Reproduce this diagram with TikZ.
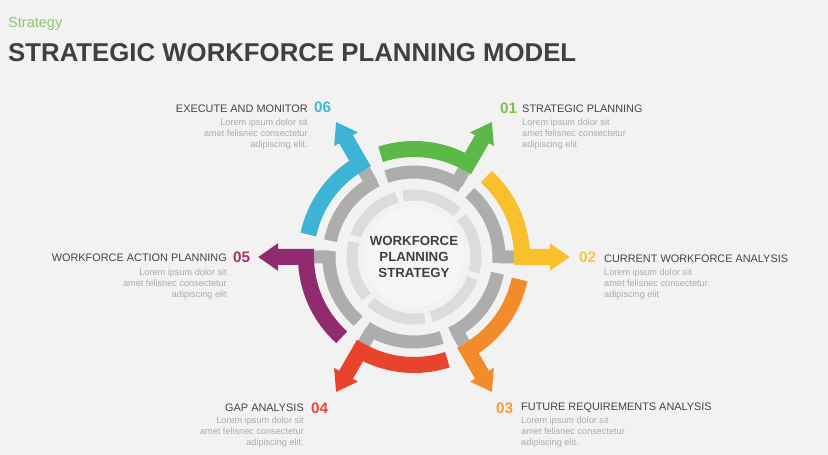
\documentclass[tikz,border=0pt]{standalone}
\usepackage{fontspec}
\setmainfont{Liberation Sans}
\usetikzlibrary{arrows.meta}
\definecolor{bg}{HTML}{F2F2F2}
\definecolor{hubfill}{HTML}{F6F6F6}
\definecolor{ringgray}{HTML}{ADADAD}
\definecolor{ringpale}{HTML}{DCDCDC}
\definecolor{titlegray}{HTML}{404040}
\definecolor{headgray}{HTML}{454545}
\definecolor{loremgray}{HTML}{ABABAB}
\definecolor{taggreen}{HTML}{8CC96B}
\definecolor{armgreen}{HTML}{5DB947}
\definecolor{armyellow}{HTML}{F9C02D}
\definecolor{armorange}{HTML}{F28C2A}
\definecolor{armred}{HTML}{E8432D}
\definecolor{armpurple}{HTML}{8F2B6E}
\definecolor{armcyan}{HTML}{3DB4D6}
\definecolor{numgreen}{HTML}{7DC24B}
\definecolor{numyellow}{HTML}{F8C447}
\definecolor{numorange}{HTML}{F29B3B}
\definecolor{numred}{HTML}{E9473A}
\definecolor{numpurple}{HTML}{A3316F}
\definecolor{numcyan}{HTML}{43B7D8}
\begin{document}
\begin{tikzpicture}[x=0.03cm,y=0.03cm,
        arm/.style={line width=0.48cm,line join=miter,-{Triangle[width=0.78cm,length=0.6cm]}},
        grayarc/.style={line width=0.39cm,draw=ringgray},
        palearc/.style={line width=0.33cm,draw=ringpale},
        num/.style={anchor=west,inner sep=0pt,font=\fontsize{13}{15}\selectfont\bfseries},
        head/.style={inner sep=0pt,text=headgray,font=\fontsize{9.3}{11}\selectfont},
        lorem/.style={inner sep=0pt,text=loremgray,font=\fontsize{7.8}{9.4}\selectfont}]
            \fill[bg](0,0)rectangle(828,-455);
            \useasboundingbox(0,0)rectangle(828,-455);
            \node[anchor=base west,inner sep=0pt,text=taggreen,font=\fontsize{12.4}{14}\selectfont](Tag)at(8,-28){Strategy};
            \node[anchor=west,inner sep=0pt,text=titlegray,font=\fontsize{22}{26}\selectfont\bfseries](Title)at(8,-52.5){STRATEGIC WORKFORCE PLANNING MODEL};
            \begin{scope}[shift={(414,-257)}]
            \fill[hubfill](0,0)circle(50);
            \coordinate(T1)at(60:156);
            \coordinate(T2)at(0:156);
            \coordinate(T3)at(-60:156);
            \coordinate(T4)at(-120:156);
            \coordinate(T5)at(180:156);
            \coordinate(T6)at(120:156);
            \draw[palearc](100:62)arc[start angle=100,end angle=46,radius=62];
            \draw[palearc](40:62)arc[start angle=40,end angle=-14,radius=62];
            \draw[palearc](-20:62)arc[start angle=-20,end angle=-74,radius=62];
            \draw[palearc](-80:62)arc[start angle=-80,end angle=-134,radius=62];
            \draw[palearc](220:62)arc[start angle=220,end angle=166,radius=62];
            \draw[palearc](160:62)arc[start angle=160,end angle=106,radius=62];
            \draw[grayarc](109:85)arc[start angle=109,end angle=56,radius=85](60:85)--(60:100);
            \draw[grayarc](49:85)arc[start angle=49,end angle=-4,radius=85](0:85)--(0:100);
            \draw[grayarc](-11:85)arc[start angle=-11,end angle=-64,radius=85](-60:85)--(-60:100);
            \draw[grayarc](-71:85)arc[start angle=-71,end angle=-124,radius=85](-120:85)--(-120:100);
            \draw[grayarc](229:85)arc[start angle=229,end angle=176,radius=85](180:85)--(180:100);
            \draw[grayarc](169:85)arc[start angle=169,end angle=116,radius=85](120:85)--(120:100);
            \draw[arm,armgreen](108:108)arc[start angle=108,end angle=60,radius=108]--(T1);
            \draw[arm,armyellow](48:108)arc[start angle=48,end angle=0,radius=108]--(T2);
            \draw[arm,armorange](-12:108)arc[start angle=-12,end angle=-60,radius=108]--(T3);
            \draw[arm,armred](-72:108)arc[start angle=-72,end angle=-120,radius=108]--(T4);
            \draw[arm,armpurple](228:108)arc[start angle=228,end angle=180,radius=108]--(T5);
            \draw[arm,armcyan](168:108)arc[start angle=168,end angle=120,radius=108]--(T6);
            \node[align=center,text=titlegray,font=\fontsize{11.3}{13.7}\selectfont\bfseries](Hub)at(0,0){WORKFORCE\\PLANNING\\STRATEGY};
            \end{scope}
            \node[num,text=numgreen](N1)at(500,-108){01};
            \node[head,anchor=west](H1)at(522,-109){STRATEGIC PLANNING};
            \node[lorem,anchor=west,align=left](L1)at(522,-134){Lorem ipsum dolor sit\\amet felisnec consectetur\\adipiscing elit};
            \node[num,text=numyellow](N2)at(579,-257){02};
            \node[head,anchor=west](H2)at(604,-259){CURRENT WORKFORCE ANALYSIS};
            \node[lorem,anchor=west,align=left](L2)at(604,-284){Lorem ipsum dolor sit\\amet felisnec consectetur\\adipiscing elit};
            \node[num,text=numorange](N3)at(496,-408){03};
            \node[head,anchor=west](H3)at(521,-408){FUTURE REQUIREMENTS ANALYSIS};
            \node[lorem,anchor=west,align=left](L3)at(521,-432){Lorem ipsum dolor sit\\amet felisnec consectetur\\adipiscing elit.};
            \node[num,text=numred](N4)at(311,-408){04};
            \node[head,anchor=east](H4)at(304,-408){GAP ANALYSIS};
            \node[lorem,anchor=east,align=right](L4)at(304,-432){Lorem ipsum dolor sit\\amet felisnec consectetur\\adipiscing elit.};
            \node[num,text=numpurple](N5)at(233,-257){05};
            \node[head,anchor=east](H5)at(227,-258){WORKFORCE ACTION PLANNING};
            \node[lorem,anchor=east,align=right](L5)at(227,-284){Lorem ipsum dolor sit\\amet felisnec consectetur\\adipiscing elit};
            \node[num,text=numcyan](N6)at(314,-107){06};
            \node[head,anchor=east](H6)at(308,-109){EXECUTE AND MONITOR};
            \node[lorem,anchor=east,align=right](L6)at(308,-134){Lorem ipsum dolor sit\\amet felisnec consectetur\\adipiscing elit.};
        \end{tikzpicture}
\end{document}
